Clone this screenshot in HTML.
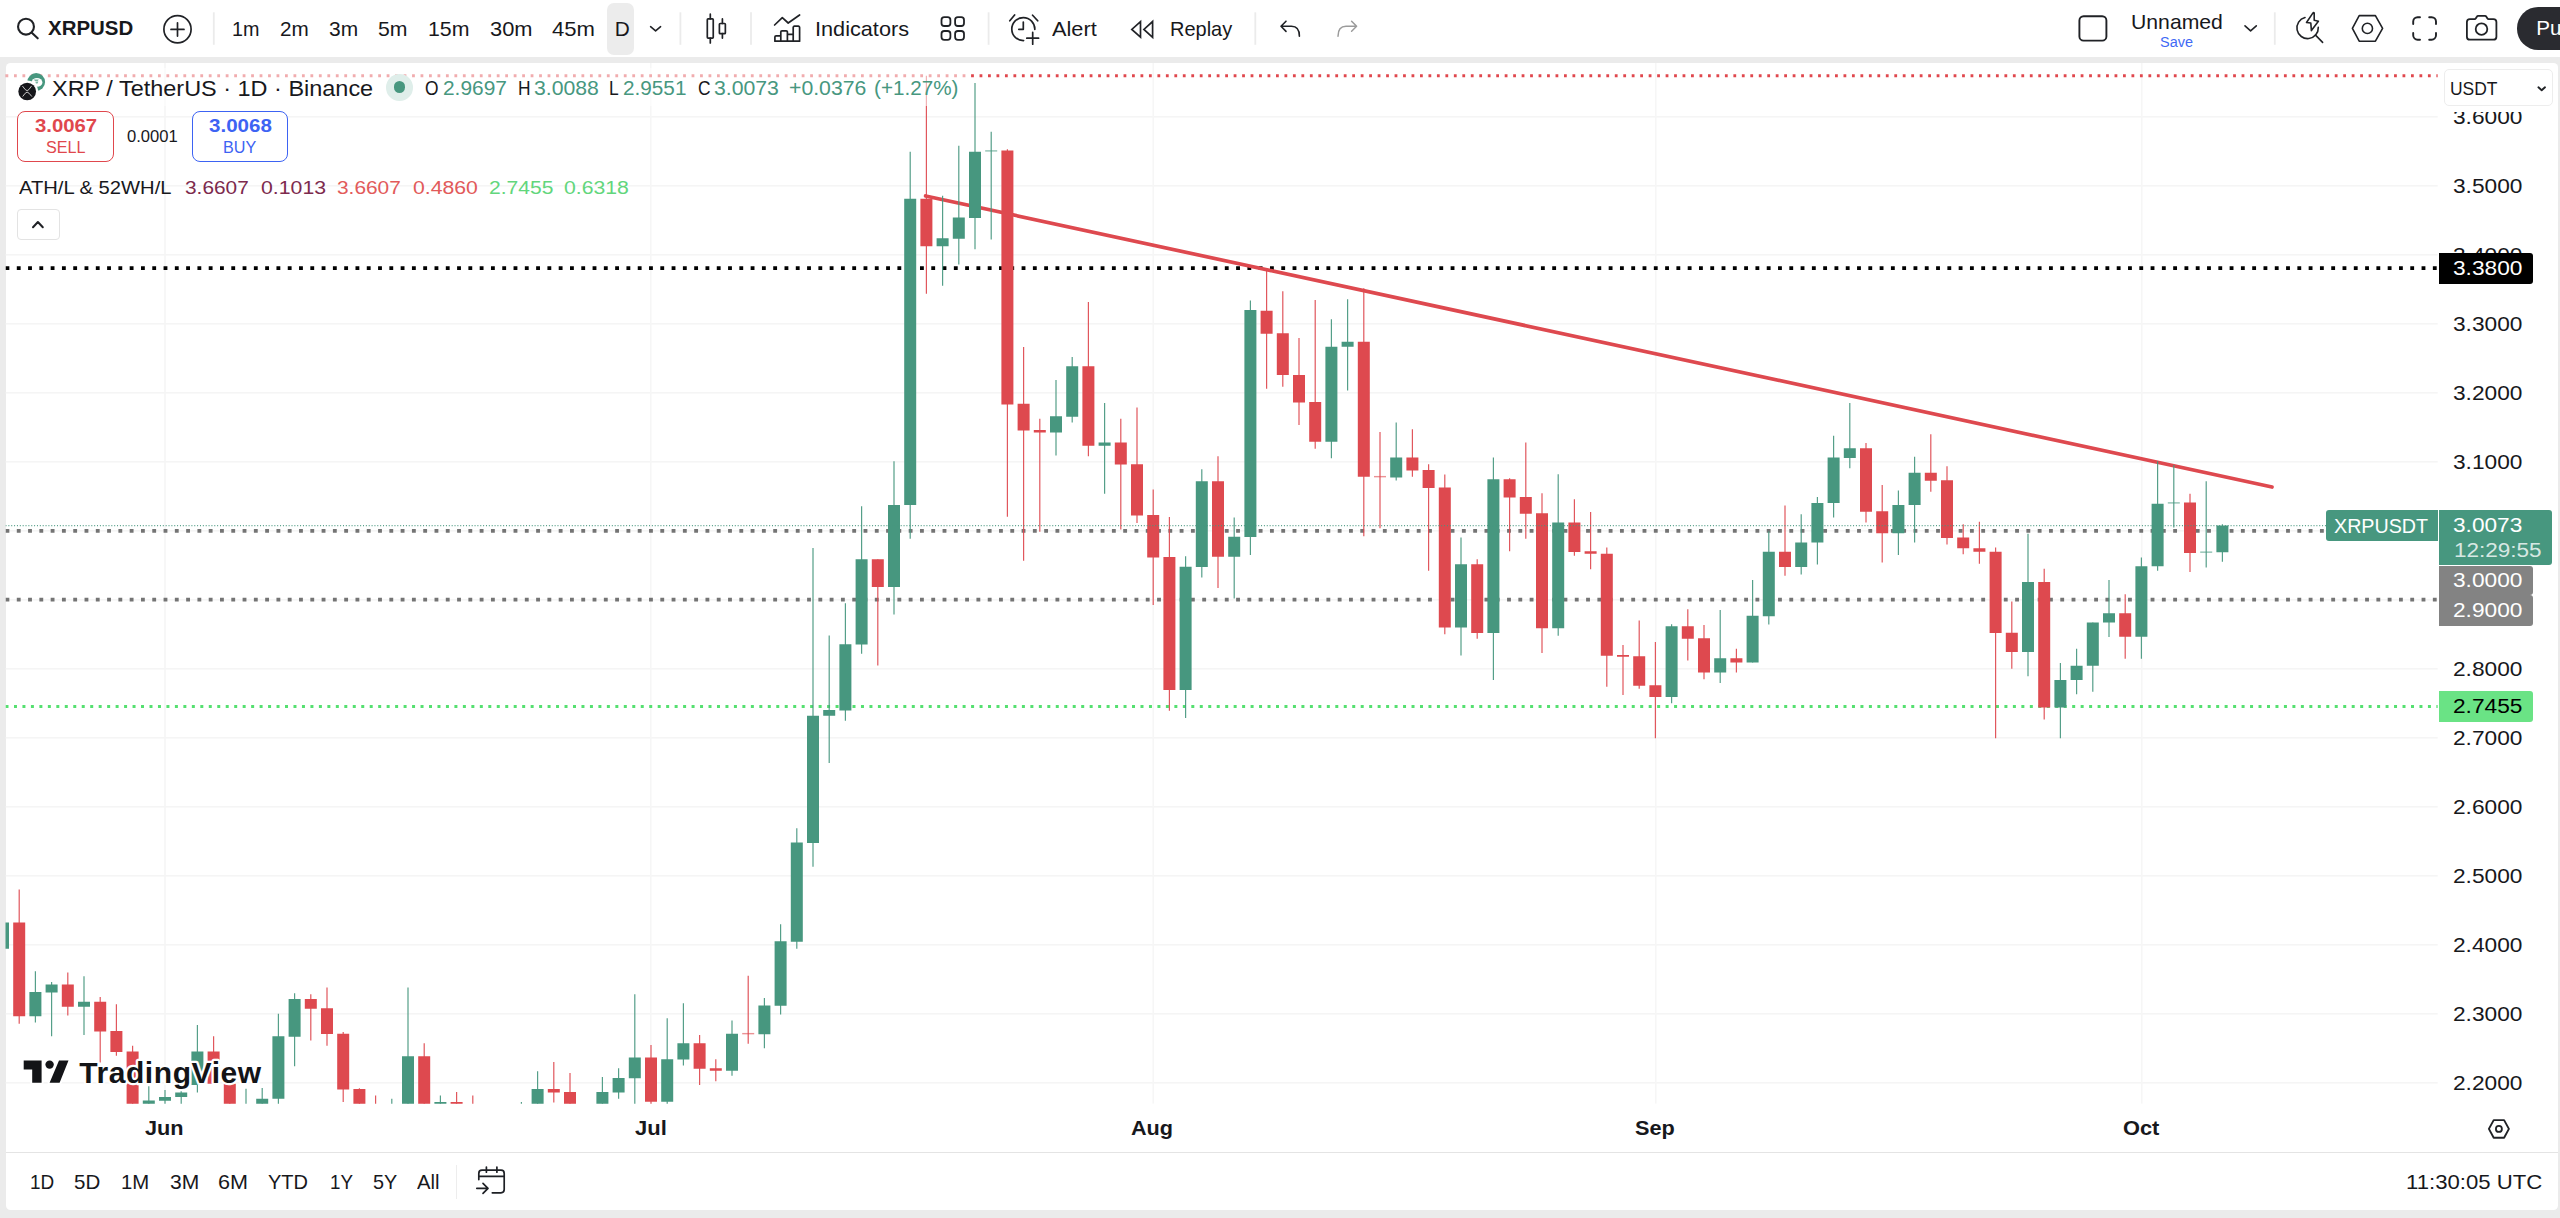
<!DOCTYPE html>
<html><head><meta charset="utf-8"><title>XRPUSD chart</title>
<style>
html,body{margin:0;padding:0;}
body{width:2560px;height:1218px;position:relative;overflow:hidden;background:#ebebeb;font-family:"Liberation Sans",sans-serif;}
.t{position:absolute;white-space:nowrap;transform-origin:0 0;}
.abs{position:absolute;}
.chart{position:absolute;left:0;top:0;}
svg.ic{position:absolute;overflow:visible;fill:none;stroke:#202226;stroke-width:1.6;stroke-linecap:round;stroke-linejoin:round}
</style></head><body>
<div class="abs" style="left:0;top:0;width:2560px;height:57.3px;background:#fff"></div>
<div class="abs" style="left:5.5px;top:63.2px;width:2552.9px;height:1146.8px;background:#fff;border-radius:4.5px"></div>
<div class="abs" style="left:607.1px;top:3px;width:27.1px;height:51.9px;background:#ececec;border-radius:7px"></div>
<svg class="chart" width="2560" height="1218" viewBox="0 0 2560 1218">
<defs><clipPath id="pane"><rect x="5.5" y="63" width="2432.3" height="1040.75"/></clipPath></defs>
<g clip-path="url(#pane)">
<rect x="5.5" y="116.00" width="2432.3" height="1.6" fill="#f5f5f5"/>
<rect x="5.5" y="185.00" width="2432.3" height="1.6" fill="#f5f5f5"/>
<rect x="5.5" y="254.00" width="2432.3" height="1.6" fill="#f5f5f5"/>
<rect x="5.5" y="323.00" width="2432.3" height="1.6" fill="#f5f5f5"/>
<rect x="5.5" y="392.00" width="2432.3" height="1.6" fill="#f5f5f5"/>
<rect x="5.5" y="461.00" width="2432.3" height="1.6" fill="#f5f5f5"/>
<rect x="5.5" y="530.00" width="2432.3" height="1.6" fill="#f5f5f5"/>
<rect x="5.5" y="599.00" width="2432.3" height="1.6" fill="#f5f5f5"/>
<rect x="5.5" y="668.00" width="2432.3" height="1.6" fill="#f5f5f5"/>
<rect x="5.5" y="737.00" width="2432.3" height="1.6" fill="#f5f5f5"/>
<rect x="5.5" y="806.00" width="2432.3" height="1.6" fill="#f5f5f5"/>
<rect x="5.5" y="875.00" width="2432.3" height="1.6" fill="#f5f5f5"/>
<rect x="5.5" y="944.00" width="2432.3" height="1.6" fill="#f5f5f5"/>
<rect x="5.5" y="1013.00" width="2432.3" height="1.6" fill="#f5f5f5"/>
<rect x="5.5" y="1082.00" width="2432.3" height="1.6" fill="#f5f5f5"/>
<rect x="164.20" y="63" width="1.6" height="1040.75" fill="#f6f6f6"/>
<rect x="649.95" y="63" width="1.6" height="1040.75" fill="#f6f6f6"/>
<rect x="1152.45" y="63" width="1.6" height="1040.75" fill="#f6f6f6"/>
<rect x="1654.95" y="63" width="1.6" height="1040.75" fill="#f6f6f6"/>
<rect x="2140.95" y="63" width="1.6" height="1040.75" fill="#f6f6f6"/>
<line x1="5.5" y1="75.75" x2="2437.8" y2="75.75" stroke="#e0474d" stroke-width="2.8" stroke-dasharray="2.8 5.670000000000001"/>
<line x1="5.5" y1="706.40" x2="2437.8" y2="706.40" stroke="#55e070" stroke-width="3" stroke-dasharray="3 5.470000000000001"/>
<line x1="5.5" y1="268.10" x2="2437.8" y2="268.10" stroke="#000000" stroke-width="3.85" stroke-dasharray="3.85 7.4399999999999995"/>
<line x1="5.5" y1="530.90" x2="2437.8" y2="530.90" stroke="#747474" stroke-width="3.85" stroke-dasharray="3.85 7.4399999999999995"/>
<line x1="5.5" y1="599.60" x2="2437.8" y2="599.60" stroke="#747474" stroke-width="3.85" stroke-dasharray="3.85 7.4399999999999995"/>
<line x1="925.6" y1="196" x2="2272" y2="487" stroke="#de494f" stroke-width="3.7" stroke-linecap="round"/>
<rect x="2.40" y="922.50" width="1.2" height="26.25" fill="#47977f" opacity="0.92"/>
<rect x="-3.00" y="922.50" width="12" height="26.25" fill="#47977f"/>
<rect x="18.60" y="889.50" width="1.2" height="134.25" fill="#de494f" opacity="0.92"/>
<rect x="13.20" y="922.50" width="12" height="93.75" fill="#de494f"/>
<rect x="34.80" y="971.25" width="1.2" height="51.25" fill="#47977f" opacity="0.92"/>
<rect x="29.40" y="992.00" width="12" height="24.25" fill="#47977f"/>
<rect x="51.00" y="982.00" width="1.2" height="54.25" fill="#47977f" opacity="0.92"/>
<rect x="45.60" y="984.50" width="12" height="8.00" fill="#47977f"/>
<rect x="67.20" y="972.50" width="1.2" height="43.00" fill="#de494f" opacity="0.92"/>
<rect x="61.80" y="984.50" width="12" height="22.25" fill="#de494f"/>
<rect x="83.40" y="976.25" width="1.2" height="58.75" fill="#47977f" opacity="0.92"/>
<rect x="78.00" y="1001.75" width="12" height="5.00" fill="#47977f"/>
<rect x="99.60" y="997.00" width="1.2" height="65.50" fill="#de494f" opacity="0.92"/>
<rect x="94.20" y="1001.75" width="12" height="29.75" fill="#de494f"/>
<rect x="115.80" y="1004.25" width="1.2" height="51.50" fill="#de494f" opacity="0.92"/>
<rect x="110.40" y="1031.00" width="12" height="21.00" fill="#de494f"/>
<rect x="132.00" y="1045.75" width="1.2" height="64.25" fill="#de494f" opacity="0.92"/>
<rect x="126.60" y="1051.50" width="12" height="58.50" fill="#de494f"/>
<rect x="148.20" y="1086.25" width="1.2" height="23.75" fill="#47977f" opacity="0.92"/>
<rect x="142.80" y="1100.50" width="12" height="9.50" fill="#47977f"/>
<rect x="164.40" y="1090.00" width="1.2" height="20.00" fill="#47977f" opacity="0.92"/>
<rect x="159.00" y="1097.00" width="12" height="3.75" fill="#47977f"/>
<rect x="180.60" y="1085.00" width="1.2" height="25.00" fill="#47977f" opacity="0.92"/>
<rect x="175.20" y="1092.50" width="12" height="4.50" fill="#47977f"/>
<rect x="196.80" y="1025.00" width="1.2" height="67.50" fill="#47977f" opacity="0.92"/>
<rect x="191.40" y="1051.50" width="12" height="33.50" fill="#47977f"/>
<rect x="213.00" y="1036.25" width="1.2" height="47.50" fill="#de494f" opacity="0.92"/>
<rect x="207.60" y="1051.50" width="12" height="32.25" fill="#de494f"/>
<rect x="229.20" y="1083.75" width="1.2" height="26.25" fill="#de494f" opacity="0.92"/>
<rect x="223.80" y="1083.75" width="12" height="26.25" fill="#de494f"/>
<rect x="245.40" y="1088.75" width="1.2" height="21.25" fill="#47977f" opacity="0.92"/>
<rect x="240.00" y="1109.70" width="12" height="1.4" fill="#47977f" opacity="0.6"/>
<rect x="261.60" y="1088.00" width="1.2" height="22.00" fill="#47977f" opacity="0.92"/>
<rect x="256.20" y="1098.75" width="12" height="11.25" fill="#47977f"/>
<rect x="277.80" y="1013.75" width="1.2" height="96.25" fill="#47977f" opacity="0.92"/>
<rect x="272.40" y="1036.25" width="12" height="62.50" fill="#47977f"/>
<rect x="294.00" y="993.25" width="1.2" height="73.00" fill="#47977f" opacity="0.92"/>
<rect x="288.60" y="999.00" width="12" height="37.75" fill="#47977f"/>
<rect x="310.20" y="994.25" width="1.2" height="46.25" fill="#de494f" opacity="0.92"/>
<rect x="304.80" y="999.00" width="12" height="9.75" fill="#de494f"/>
<rect x="326.40" y="987.50" width="1.2" height="58.25" fill="#de494f" opacity="0.92"/>
<rect x="321.00" y="1008.25" width="12" height="25.75" fill="#de494f"/>
<rect x="342.60" y="1032.00" width="1.2" height="70.00" fill="#de494f" opacity="0.92"/>
<rect x="337.20" y="1033.75" width="12" height="55.75" fill="#de494f"/>
<rect x="358.80" y="1088.25" width="1.2" height="21.75" fill="#de494f" opacity="0.92"/>
<rect x="353.40" y="1089.00" width="12" height="21.00" fill="#de494f"/>
<rect x="375.00" y="1095.50" width="1.2" height="14.50" fill="#de494f" opacity="0.92"/>
<rect x="369.60" y="1109.70" width="12" height="1.4" fill="#de494f" opacity="0.6"/>
<rect x="391.20" y="1098.75" width="1.2" height="11.25" fill="#47977f" opacity="0.92"/>
<rect x="385.80" y="1109.70" width="12" height="1.4" fill="#47977f" opacity="0.6"/>
<rect x="407.40" y="987.50" width="1.2" height="122.50" fill="#47977f" opacity="0.92"/>
<rect x="402.00" y="1056.25" width="12" height="53.75" fill="#47977f"/>
<rect x="423.60" y="1043.25" width="1.2" height="66.75" fill="#de494f" opacity="0.92"/>
<rect x="418.20" y="1056.25" width="12" height="53.75" fill="#de494f"/>
<rect x="439.80" y="1095.50" width="1.2" height="14.50" fill="#47977f" opacity="0.92"/>
<rect x="434.40" y="1102.00" width="12" height="8.00" fill="#47977f"/>
<rect x="456.00" y="1092.00" width="1.2" height="18.00" fill="#de494f" opacity="0.92"/>
<rect x="450.60" y="1102.00" width="12" height="8.00" fill="#de494f"/>
<rect x="472.20" y="1095.50" width="1.2" height="14.50" fill="#de494f" opacity="0.92"/>
<rect x="466.80" y="1109.70" width="12" height="1.4" fill="#de494f" opacity="0.6"/>
<rect x="520.80" y="1102.00" width="1.2" height="8.00" fill="#47977f" opacity="0.92"/>
<rect x="515.40" y="1109.70" width="12" height="1.4" fill="#47977f" opacity="0.6"/>
<rect x="537.00" y="1071.25" width="1.2" height="38.75" fill="#47977f" opacity="0.92"/>
<rect x="531.60" y="1089.00" width="12" height="21.00" fill="#47977f"/>
<rect x="553.20" y="1062.00" width="1.2" height="40.50" fill="#de494f" opacity="0.92"/>
<rect x="547.80" y="1089.00" width="12" height="3.50" fill="#de494f"/>
<rect x="569.40" y="1073.00" width="1.2" height="37.00" fill="#de494f" opacity="0.92"/>
<rect x="564.00" y="1092.00" width="12" height="18.00" fill="#de494f"/>
<rect x="601.80" y="1077.00" width="1.2" height="33.00" fill="#47977f" opacity="0.92"/>
<rect x="596.40" y="1092.00" width="12" height="18.00" fill="#47977f"/>
<rect x="618.00" y="1068.25" width="1.2" height="30.50" fill="#47977f" opacity="0.92"/>
<rect x="612.60" y="1078.00" width="12" height="14.50" fill="#47977f"/>
<rect x="634.20" y="994.25" width="1.2" height="115.75" fill="#47977f" opacity="0.92"/>
<rect x="628.80" y="1057.50" width="12" height="20.75" fill="#47977f"/>
<rect x="650.40" y="1045.00" width="1.2" height="65.00" fill="#de494f" opacity="0.92"/>
<rect x="645.00" y="1057.50" width="12" height="44.25" fill="#de494f"/>
<rect x="666.60" y="1018.25" width="1.2" height="91.75" fill="#47977f" opacity="0.92"/>
<rect x="661.20" y="1059.25" width="12" height="42.50" fill="#47977f"/>
<rect x="682.80" y="1003.25" width="1.2" height="62.25" fill="#47977f" opacity="0.92"/>
<rect x="677.40" y="1043.25" width="12" height="16.25" fill="#47977f"/>
<rect x="699.00" y="1035.00" width="1.2" height="50.00" fill="#de494f" opacity="0.92"/>
<rect x="693.60" y="1043.25" width="12" height="25.50" fill="#de494f"/>
<rect x="715.20" y="1059.25" width="1.2" height="22.00" fill="#de494f" opacity="0.92"/>
<rect x="709.80" y="1068.25" width="12" height="2.50" fill="#de494f"/>
<rect x="731.40" y="1020.50" width="1.2" height="55.25" fill="#47977f" opacity="0.92"/>
<rect x="726.00" y="1033.75" width="12" height="37.00" fill="#47977f"/>
<rect x="747.60" y="975.75" width="1.2" height="68.00" fill="#de494f" opacity="0.92"/>
<rect x="742.20" y="1032.95" width="12" height="1.4" fill="#de494f" opacity="0.6"/>
<rect x="763.80" y="998.00" width="1.2" height="50.25" fill="#47977f" opacity="0.92"/>
<rect x="758.40" y="1005.50" width="12" height="28.75" fill="#47977f"/>
<rect x="780.00" y="924.25" width="1.2" height="90.25" fill="#47977f" opacity="0.92"/>
<rect x="774.60" y="941.25" width="12" height="64.50" fill="#47977f"/>
<rect x="796.20" y="828.25" width="1.2" height="120.50" fill="#47977f" opacity="0.92"/>
<rect x="790.80" y="842.50" width="12" height="99.25" fill="#47977f"/>
<rect x="812.40" y="548.00" width="1.2" height="318.75" fill="#47977f" opacity="0.92"/>
<rect x="807.00" y="715.75" width="12" height="127.25" fill="#47977f"/>
<rect x="828.60" y="635.50" width="1.2" height="127.50" fill="#47977f" opacity="0.92"/>
<rect x="823.20" y="710.00" width="12" height="5.75" fill="#47977f"/>
<rect x="844.80" y="603.25" width="1.2" height="117.50" fill="#47977f" opacity="0.92"/>
<rect x="839.40" y="644.25" width="12" height="66.25" fill="#47977f"/>
<rect x="861.00" y="506.25" width="1.2" height="147.50" fill="#47977f" opacity="0.92"/>
<rect x="855.60" y="559.25" width="12" height="85.25" fill="#47977f"/>
<rect x="877.20" y="559.25" width="1.2" height="106.25" fill="#de494f" opacity="0.92"/>
<rect x="871.80" y="559.25" width="12" height="27.75" fill="#de494f"/>
<rect x="893.40" y="461.25" width="1.2" height="153.25" fill="#47977f" opacity="0.92"/>
<rect x="888.00" y="505.00" width="12" height="82.00" fill="#47977f"/>
<rect x="909.60" y="151.75" width="1.2" height="387.00" fill="#47977f" opacity="0.92"/>
<rect x="904.20" y="198.75" width="12" height="306.25" fill="#47977f"/>
<rect x="925.80" y="75.75" width="1.2" height="218.00" fill="#de494f" opacity="0.92"/>
<rect x="920.40" y="198.75" width="12" height="47.50" fill="#de494f"/>
<rect x="942.00" y="195.75" width="1.2" height="90.00" fill="#47977f" opacity="0.92"/>
<rect x="936.60" y="238.25" width="12" height="8.00" fill="#47977f"/>
<rect x="958.20" y="145.75" width="1.2" height="118.75" fill="#47977f" opacity="0.92"/>
<rect x="952.80" y="217.50" width="12" height="21.25" fill="#47977f"/>
<rect x="974.40" y="83.00" width="1.2" height="166.25" fill="#47977f" opacity="0.92"/>
<rect x="969.00" y="151.75" width="12" height="66.25" fill="#47977f"/>
<rect x="990.60" y="131.75" width="1.2" height="107.75" fill="#47977f" opacity="0.92"/>
<rect x="985.20" y="150.20" width="12" height="1.4" fill="#47977f" opacity="0.6"/>
<rect x="1006.80" y="149.25" width="1.2" height="367.50" fill="#de494f" opacity="0.92"/>
<rect x="1001.40" y="150.50" width="12" height="254.00" fill="#de494f"/>
<rect x="1023.00" y="347.00" width="1.2" height="213.75" fill="#de494f" opacity="0.92"/>
<rect x="1017.60" y="403.75" width="12" height="26.75" fill="#de494f"/>
<rect x="1039.20" y="418.75" width="1.2" height="113.00" fill="#de494f" opacity="0.92"/>
<rect x="1033.80" y="430.00" width="12" height="2.50" fill="#de494f"/>
<rect x="1055.40" y="380.00" width="1.2" height="75.50" fill="#47977f" opacity="0.92"/>
<rect x="1050.00" y="416.25" width="12" height="16.25" fill="#47977f"/>
<rect x="1071.60" y="357.00" width="1.2" height="65.50" fill="#47977f" opacity="0.92"/>
<rect x="1066.20" y="366.25" width="12" height="50.50" fill="#47977f"/>
<rect x="1087.80" y="302.00" width="1.2" height="154.25" fill="#de494f" opacity="0.92"/>
<rect x="1082.40" y="366.25" width="12" height="79.50" fill="#de494f"/>
<rect x="1104.00" y="403.00" width="1.2" height="90.75" fill="#47977f" opacity="0.92"/>
<rect x="1098.60" y="442.50" width="12" height="3.25" fill="#47977f"/>
<rect x="1120.20" y="418.75" width="1.2" height="110.75" fill="#de494f" opacity="0.92"/>
<rect x="1114.80" y="442.50" width="12" height="22.00" fill="#de494f"/>
<rect x="1136.40" y="407.50" width="1.2" height="115.50" fill="#de494f" opacity="0.92"/>
<rect x="1131.00" y="464.25" width="12" height="51.25" fill="#de494f"/>
<rect x="1152.60" y="489.50" width="1.2" height="115.50" fill="#de494f" opacity="0.92"/>
<rect x="1147.20" y="515.00" width="12" height="42.50" fill="#de494f"/>
<rect x="1168.80" y="517.00" width="1.2" height="193.75" fill="#de494f" opacity="0.92"/>
<rect x="1163.40" y="557.00" width="12" height="133.00" fill="#de494f"/>
<rect x="1185.00" y="556.25" width="1.2" height="161.75" fill="#47977f" opacity="0.92"/>
<rect x="1179.60" y="566.75" width="12" height="123.25" fill="#47977f"/>
<rect x="1201.20" y="469.25" width="1.2" height="108.25" fill="#47977f" opacity="0.92"/>
<rect x="1195.80" y="481.25" width="12" height="85.75" fill="#47977f"/>
<rect x="1217.40" y="456.25" width="1.2" height="131.75" fill="#de494f" opacity="0.92"/>
<rect x="1212.00" y="481.25" width="12" height="75.50" fill="#de494f"/>
<rect x="1233.60" y="517.50" width="1.2" height="81.00" fill="#47977f" opacity="0.92"/>
<rect x="1228.20" y="536.75" width="12" height="20.00" fill="#47977f"/>
<rect x="1249.80" y="300.50" width="1.2" height="254.50" fill="#47977f" opacity="0.92"/>
<rect x="1244.40" y="310.00" width="12" height="227.00" fill="#47977f"/>
<rect x="1266.00" y="268.00" width="1.2" height="120.75" fill="#de494f" opacity="0.92"/>
<rect x="1260.60" y="310.75" width="12" height="23.00" fill="#de494f"/>
<rect x="1282.20" y="291.25" width="1.2" height="95.50" fill="#de494f" opacity="0.92"/>
<rect x="1276.80" y="333.25" width="12" height="41.75" fill="#de494f"/>
<rect x="1298.40" y="338.00" width="1.2" height="87.00" fill="#de494f" opacity="0.92"/>
<rect x="1293.00" y="375.00" width="12" height="27.50" fill="#de494f"/>
<rect x="1314.60" y="300.00" width="1.2" height="148.75" fill="#de494f" opacity="0.92"/>
<rect x="1309.20" y="402.00" width="12" height="39.75" fill="#de494f"/>
<rect x="1330.80" y="319.25" width="1.2" height="139.00" fill="#47977f" opacity="0.92"/>
<rect x="1325.40" y="346.75" width="12" height="95.00" fill="#47977f"/>
<rect x="1347.00" y="299.25" width="1.2" height="91.25" fill="#47977f" opacity="0.92"/>
<rect x="1341.60" y="341.75" width="12" height="5.00" fill="#47977f"/>
<rect x="1363.20" y="288.25" width="1.2" height="248.00" fill="#de494f" opacity="0.92"/>
<rect x="1357.80" y="341.75" width="12" height="135.00" fill="#de494f"/>
<rect x="1379.40" y="432.00" width="1.2" height="96.25" fill="#de494f" opacity="0.92"/>
<rect x="1374.00" y="475.95" width="12" height="1.4" fill="#de494f" opacity="0.6"/>
<rect x="1395.60" y="422.50" width="1.2" height="58.00" fill="#47977f" opacity="0.92"/>
<rect x="1390.20" y="457.50" width="12" height="20.00" fill="#47977f"/>
<rect x="1411.80" y="429.25" width="1.2" height="47.50" fill="#de494f" opacity="0.92"/>
<rect x="1406.40" y="457.50" width="12" height="13.00" fill="#de494f"/>
<rect x="1428.00" y="464.25" width="1.2" height="106.50" fill="#de494f" opacity="0.92"/>
<rect x="1422.60" y="470.00" width="12" height="18.00" fill="#de494f"/>
<rect x="1444.20" y="474.50" width="1.2" height="159.75" fill="#de494f" opacity="0.92"/>
<rect x="1438.80" y="487.50" width="12" height="140.00" fill="#de494f"/>
<rect x="1460.40" y="537.50" width="1.2" height="118.00" fill="#47977f" opacity="0.92"/>
<rect x="1455.00" y="564.25" width="12" height="63.25" fill="#47977f"/>
<rect x="1476.60" y="559.25" width="1.2" height="79.50" fill="#de494f" opacity="0.92"/>
<rect x="1471.20" y="564.25" width="12" height="68.75" fill="#de494f"/>
<rect x="1492.80" y="457.50" width="1.2" height="222.50" fill="#47977f" opacity="0.92"/>
<rect x="1487.40" y="479.25" width="12" height="153.75" fill="#47977f"/>
<rect x="1509.00" y="478.25" width="1.2" height="73.00" fill="#de494f" opacity="0.92"/>
<rect x="1503.60" y="479.25" width="12" height="18.25" fill="#de494f"/>
<rect x="1525.20" y="442.50" width="1.2" height="96.25" fill="#de494f" opacity="0.92"/>
<rect x="1519.80" y="497.00" width="12" height="16.75" fill="#de494f"/>
<rect x="1541.40" y="493.25" width="1.2" height="159.75" fill="#de494f" opacity="0.92"/>
<rect x="1536.00" y="513.25" width="12" height="115.00" fill="#de494f"/>
<rect x="1557.60" y="474.25" width="1.2" height="161.50" fill="#47977f" opacity="0.92"/>
<rect x="1552.20" y="522.50" width="12" height="105.75" fill="#47977f"/>
<rect x="1573.80" y="499.25" width="1.2" height="56.50" fill="#de494f" opacity="0.92"/>
<rect x="1568.40" y="522.50" width="12" height="29.50" fill="#de494f"/>
<rect x="1590.00" y="512.00" width="1.2" height="57.25" fill="#de494f" opacity="0.92"/>
<rect x="1584.60" y="551.25" width="12" height="2.50" fill="#de494f"/>
<rect x="1606.20" y="547.50" width="1.2" height="139.25" fill="#de494f" opacity="0.92"/>
<rect x="1600.80" y="553.75" width="12" height="102.00" fill="#de494f"/>
<rect x="1622.40" y="645.00" width="1.2" height="50.00" fill="#de494f" opacity="0.92"/>
<rect x="1617.00" y="655.00" width="12" height="1.75" fill="#de494f"/>
<rect x="1638.60" y="620.50" width="1.2" height="68.25" fill="#de494f" opacity="0.92"/>
<rect x="1633.20" y="656.25" width="12" height="29.50" fill="#de494f"/>
<rect x="1654.80" y="642.00" width="1.2" height="96.25" fill="#de494f" opacity="0.92"/>
<rect x="1649.40" y="685.25" width="12" height="11.75" fill="#de494f"/>
<rect x="1671.00" y="624.25" width="1.2" height="79.00" fill="#47977f" opacity="0.92"/>
<rect x="1665.60" y="626.25" width="12" height="70.75" fill="#47977f"/>
<rect x="1687.20" y="609.25" width="1.2" height="51.25" fill="#de494f" opacity="0.92"/>
<rect x="1681.80" y="626.25" width="12" height="12.50" fill="#de494f"/>
<rect x="1703.40" y="625.00" width="1.2" height="54.25" fill="#de494f" opacity="0.92"/>
<rect x="1698.00" y="638.25" width="12" height="34.25" fill="#de494f"/>
<rect x="1719.60" y="610.00" width="1.2" height="73.00" fill="#47977f" opacity="0.92"/>
<rect x="1714.20" y="658.25" width="12" height="14.25" fill="#47977f"/>
<rect x="1735.80" y="648.75" width="1.2" height="23.75" fill="#de494f" opacity="0.92"/>
<rect x="1730.40" y="658.25" width="12" height="4.25" fill="#de494f"/>
<rect x="1752.00" y="580.00" width="1.2" height="82.50" fill="#47977f" opacity="0.92"/>
<rect x="1746.60" y="615.75" width="12" height="46.75" fill="#47977f"/>
<rect x="1768.20" y="531.25" width="1.2" height="93.25" fill="#47977f" opacity="0.92"/>
<rect x="1762.80" y="551.75" width="12" height="64.50" fill="#47977f"/>
<rect x="1784.40" y="505.50" width="1.2" height="70.25" fill="#de494f" opacity="0.92"/>
<rect x="1779.00" y="551.75" width="12" height="15.25" fill="#de494f"/>
<rect x="1800.60" y="514.25" width="1.2" height="60.25" fill="#47977f" opacity="0.92"/>
<rect x="1795.20" y="542.50" width="12" height="24.50" fill="#47977f"/>
<rect x="1816.80" y="497.00" width="1.2" height="67.50" fill="#47977f" opacity="0.92"/>
<rect x="1811.40" y="503.00" width="12" height="39.50" fill="#47977f"/>
<rect x="1833.00" y="435.75" width="1.2" height="81.75" fill="#47977f" opacity="0.92"/>
<rect x="1827.60" y="457.50" width="12" height="45.50" fill="#47977f"/>
<rect x="1849.20" y="403.00" width="1.2" height="65.25" fill="#47977f" opacity="0.92"/>
<rect x="1843.80" y="448.25" width="12" height="9.75" fill="#47977f"/>
<rect x="1865.40" y="443.00" width="1.2" height="79.50" fill="#de494f" opacity="0.92"/>
<rect x="1860.00" y="448.25" width="12" height="63.50" fill="#de494f"/>
<rect x="1881.60" y="485.00" width="1.2" height="77.50" fill="#de494f" opacity="0.92"/>
<rect x="1876.20" y="511.25" width="12" height="22.00" fill="#de494f"/>
<rect x="1897.80" y="490.50" width="1.2" height="64.50" fill="#47977f" opacity="0.92"/>
<rect x="1892.40" y="505.00" width="12" height="28.25" fill="#47977f"/>
<rect x="1914.00" y="456.75" width="1.2" height="85.75" fill="#47977f" opacity="0.92"/>
<rect x="1908.60" y="472.75" width="12" height="32.25" fill="#47977f"/>
<rect x="1930.20" y="434.25" width="1.2" height="57.50" fill="#de494f" opacity="0.92"/>
<rect x="1924.80" y="472.75" width="12" height="8.00" fill="#de494f"/>
<rect x="1946.40" y="466.25" width="1.2" height="78.25" fill="#de494f" opacity="0.92"/>
<rect x="1941.00" y="480.25" width="12" height="57.75" fill="#de494f"/>
<rect x="1962.60" y="524.25" width="1.2" height="30.00" fill="#de494f" opacity="0.92"/>
<rect x="1957.20" y="537.50" width="12" height="10.75" fill="#de494f"/>
<rect x="1978.80" y="521.75" width="1.2" height="42.00" fill="#de494f" opacity="0.92"/>
<rect x="1973.40" y="548.25" width="12" height="3.50" fill="#de494f"/>
<rect x="1995.00" y="547.50" width="1.2" height="190.75" fill="#de494f" opacity="0.92"/>
<rect x="1989.60" y="551.75" width="12" height="81.25" fill="#de494f"/>
<rect x="2011.20" y="601.50" width="1.2" height="67.25" fill="#de494f" opacity="0.92"/>
<rect x="2005.80" y="632.75" width="12" height="19.25" fill="#de494f"/>
<rect x="2027.40" y="533.75" width="1.2" height="142.50" fill="#47977f" opacity="0.92"/>
<rect x="2022.00" y="582.00" width="12" height="70.00" fill="#47977f"/>
<rect x="2043.60" y="568.75" width="1.2" height="150.75" fill="#de494f" opacity="0.92"/>
<rect x="2038.20" y="582.00" width="12" height="125.50" fill="#de494f"/>
<rect x="2059.80" y="663.00" width="1.2" height="75.25" fill="#47977f" opacity="0.92"/>
<rect x="2054.40" y="680.00" width="12" height="27.50" fill="#47977f"/>
<rect x="2076.00" y="648.75" width="1.2" height="45.50" fill="#47977f" opacity="0.92"/>
<rect x="2070.60" y="665.75" width="12" height="14.25" fill="#47977f"/>
<rect x="2092.20" y="622.50" width="1.2" height="69.25" fill="#47977f" opacity="0.92"/>
<rect x="2086.80" y="622.50" width="12" height="43.25" fill="#47977f"/>
<rect x="2108.40" y="580.00" width="1.2" height="57.00" fill="#47977f" opacity="0.92"/>
<rect x="2103.00" y="613.25" width="12" height="9.25" fill="#47977f"/>
<rect x="2124.60" y="594.25" width="1.2" height="64.50" fill="#de494f" opacity="0.92"/>
<rect x="2119.20" y="613.25" width="12" height="23.50" fill="#de494f"/>
<rect x="2140.80" y="557.50" width="1.2" height="101.25" fill="#47977f" opacity="0.92"/>
<rect x="2135.40" y="566.25" width="12" height="70.50" fill="#47977f"/>
<rect x="2157.00" y="461.25" width="1.2" height="109.50" fill="#47977f" opacity="0.92"/>
<rect x="2151.60" y="503.75" width="12" height="62.50" fill="#47977f"/>
<rect x="2173.20" y="465.00" width="1.2" height="62.50" fill="#47977f" opacity="0.92"/>
<rect x="2167.80" y="502.20" width="12" height="1.4" fill="#47977f" opacity="0.6"/>
<rect x="2189.40" y="493.75" width="1.2" height="78.25" fill="#de494f" opacity="0.92"/>
<rect x="2184.00" y="502.50" width="12" height="50.50" fill="#de494f"/>
<rect x="2205.60" y="481.25" width="1.2" height="86.25" fill="#47977f" opacity="0.92"/>
<rect x="2200.20" y="551.45" width="12" height="1.4" fill="#47977f" opacity="0.6"/>
<rect x="2221.80" y="524.25" width="1.2" height="37.50" fill="#47977f" opacity="0.92"/>
<rect x="2216.40" y="525.50" width="12" height="26.75" fill="#47977f"/>
<line x1="5.5" y1="525.6" x2="2437.8" y2="525.6" stroke="#47977f" stroke-width="1.1" stroke-dasharray="1 1.86" opacity="0.9"/>
</g>
</svg>
<div class="abs" style="left:5.5px;top:1151.6px;width:2552.9px;height:1.4px;background:#e4e4e4"></div>
<div class="abs" style="left:17.2px;top:209.4px;width:40.9px;height:28.4px;border:1px solid #e3e3e3;border-radius:4px;background:#fff"></div>
<div class="abs" style="left:192px;top:111.2px;width:93.7px;height:49.3px;border:1.5px solid #3d63f3;border-radius:8px;background:rgba(255,255,255,.9)"></div>
<div class="abs" style="left:17.2px;top:111.2px;width:94.6px;height:49.3px;border:1.5px solid #e0474d;border-radius:8px;background:rgba(255,255,255,.9)"></div>
<div class="abs" style="left:5.5px;top:68px;width:962px;height:38px;background:rgba(255,255,255,.55)"></div>
<div class="t" style="left:48.40px;top:18.45px;font-size:20.5px;line-height:20.5px;color:#17181c;transform:scaleX(0.9967);font-weight:700;">XRPUSD</div>
<div class="t" style="left:232.00px;top:19.09px;font-size:20.8px;line-height:20.8px;color:#17181c;transform:scaleX(0.9512);">1m</div>
<div class="t" style="left:279.90px;top:19.09px;font-size:20.8px;line-height:20.8px;color:#17181c;transform:scaleX(0.9961);">2m</div>
<div class="t" style="left:329.10px;top:19.09px;font-size:20.8px;line-height:20.8px;color:#17181c;transform:scaleX(1.0065);">3m</div>
<div class="t" style="left:378.30px;top:19.09px;font-size:20.8px;line-height:20.8px;color:#17181c;transform:scaleX(1.0203);">5m</div>
<div class="t" style="left:428.30px;top:19.09px;font-size:20.8px;line-height:20.8px;color:#17181c;transform:scaleX(1.0258);">15m</div>
<div class="t" style="left:489.80px;top:19.09px;font-size:20.8px;line-height:20.8px;color:#17181c;transform:scaleX(1.0505);">30m</div>
<div class="t" style="left:551.80px;top:19.09px;font-size:20.8px;line-height:20.8px;color:#17181c;transform:scaleX(1.0629);">45m</div>
<div class="t" style="left:815.00px;top:19.09px;font-size:20.8px;line-height:20.8px;color:#17181c;transform:scaleX(1.0425);">Indicators</div>
<div class="t" style="left:1052.40px;top:19.09px;font-size:20.8px;line-height:20.8px;color:#17181c;transform:scaleX(1.0458);">Alert</div>
<div class="t" style="left:1170.20px;top:19.09px;font-size:20.8px;line-height:20.8px;color:#17181c;transform:scaleX(0.9600);">Replay</div>
<div class="t" style="left:2130.60px;top:11.76px;font-size:20.6px;line-height:20.6px;color:#17181c;transform:scaleX(1.0291);">Unnamed</div>
<div class="t" style="left:2159.90px;top:33.83px;font-size:15.2px;line-height:15.2px;color:#3f6af5;transform:scaleX(0.9522);">Save</div>
<div class="t" style="left:51.80px;top:77.67px;font-size:22.6px;line-height:22.6px;color:#17181c;transform:scaleX(1.0382);">XRP / TetherUS · 1D · Binance</div>
<div class="t" style="left:425.30px;top:78.96px;font-size:19.3px;line-height:19.3px;color:#17181c;letter-spacing:-0.054px;transform:scaleX(0.9000);">O</div>
<div class="t" style="left:442.50px;top:78.96px;font-size:19.3px;line-height:19.3px;color:#47977f;transform:scaleX(1.0837);">2.9697</div>
<div class="t" style="left:517.70px;top:78.96px;font-size:19.3px;line-height:19.3px;color:#17181c;letter-spacing:-0.229px;transform:scaleX(0.9000);">H</div>
<div class="t" style="left:533.50px;top:78.96px;font-size:19.3px;line-height:19.3px;color:#47977f;transform:scaleX(1.1006);">3.0088</div>
<div class="t" style="left:609.30px;top:78.96px;font-size:19.3px;line-height:19.3px;color:#17181c;transform:scaleX(0.9056);">L</div>
<div class="t" style="left:622.50px;top:78.96px;font-size:19.3px;line-height:19.3px;color:#47977f;transform:scaleX(1.0752);">2.9551</div>
<div class="t" style="left:697.50px;top:78.96px;font-size:19.3px;line-height:19.3px;color:#17181c;letter-spacing:-0.007px;transform:scaleX(0.9000);">C</div>
<div class="t" style="left:713.50px;top:78.96px;font-size:19.3px;line-height:19.3px;color:#47977f;transform:scaleX(1.1006);">3.0073</div>
<div class="t" style="left:789.00px;top:78.96px;font-size:19.3px;line-height:19.3px;color:#47977f;transform:scaleX(1.1017);">+0.0376</div>
<div class="t" style="left:874.00px;top:78.96px;font-size:19.3px;line-height:19.3px;color:#47977f;transform:scaleX(1.0718);">(+1.27%)</div>
<div class="t" style="left:34.80px;top:117.49px;font-size:18.2px;line-height:18.2px;color:#e0474d;transform:scaleX(1.1169);font-weight:700;">3.0067</div>
<div class="t" style="left:45.90px;top:140.03px;font-size:15.8px;line-height:15.8px;color:#e0474d;transform:scaleX(1.0225);">SELL</div>
<div class="t" style="left:127.30px;top:128.63px;font-size:15.8px;line-height:15.8px;color:#17181c;transform:scaleX(1.0507);">0.0001</div>
<div class="t" style="left:209.00px;top:117.49px;font-size:18.2px;line-height:18.2px;color:#3d63f3;transform:scaleX(1.1294);font-weight:700;">3.0068</div>
<div class="t" style="left:223.20px;top:140.03px;font-size:15.8px;line-height:15.8px;color:#3d63f3;transform:scaleX(1.0225);">BUY</div>
<div class="t" style="left:18.90px;top:178.15px;font-size:19.2px;line-height:19.2px;color:#17181c;transform:scaleX(1.0513);">ATH/L &amp; 52WH/L</div>
<div class="t" style="left:185.20px;top:178.15px;font-size:19.2px;line-height:19.2px;color:#7d2a4d;transform:scaleX(1.0859);">3.6607</div>
<div class="t" style="left:260.70px;top:178.15px;font-size:19.2px;line-height:19.2px;color:#7d2a4d;transform:scaleX(1.1080);">0.1013</div>
<div class="t" style="left:336.90px;top:178.15px;font-size:19.2px;line-height:19.2px;color:#e25a5a;transform:scaleX(1.0876);">3.6607</div>
<div class="t" style="left:412.50px;top:178.15px;font-size:19.2px;line-height:19.2px;color:#e25a5a;transform:scaleX(1.1063);">0.4860</div>
<div class="t" style="left:488.50px;top:178.15px;font-size:19.2px;line-height:19.2px;color:#62d67c;transform:scaleX(1.0978);">2.7455</div>
<div class="t" style="left:564.00px;top:178.15px;font-size:19.2px;line-height:19.2px;color:#62d67c;transform:scaleX(1.1063);">0.6318</div>
<div class="t" style="left:2452.70px;top:106.68px;font-size:20.7px;line-height:20.7px;color:#17181c;transform:scaleX(1.0972);">3.6000</div>
<div class="t" style="left:2452.70px;top:175.68px;font-size:20.7px;line-height:20.7px;color:#17181c;transform:scaleX(1.0972);">3.5000</div>
<div class="t" style="left:2452.70px;top:244.68px;font-size:20.7px;line-height:20.7px;color:#17181c;transform:scaleX(1.0972);">3.4000</div>
<div class="t" style="left:2452.70px;top:313.68px;font-size:20.7px;line-height:20.7px;color:#17181c;transform:scaleX(1.0972);">3.3000</div>
<div class="t" style="left:2452.70px;top:382.68px;font-size:20.7px;line-height:20.7px;color:#17181c;transform:scaleX(1.0972);">3.2000</div>
<div class="t" style="left:2452.70px;top:451.68px;font-size:20.7px;line-height:20.7px;color:#17181c;transform:scaleX(1.0972);">3.1000</div>
<div class="t" style="left:2452.70px;top:658.68px;font-size:20.7px;line-height:20.7px;color:#17181c;transform:scaleX(1.0972);">2.8000</div>
<div class="t" style="left:2452.70px;top:727.68px;font-size:20.7px;line-height:20.7px;color:#17181c;transform:scaleX(1.0972);">2.7000</div>
<div class="t" style="left:2452.70px;top:796.68px;font-size:20.7px;line-height:20.7px;color:#17181c;transform:scaleX(1.0972);">2.6000</div>
<div class="t" style="left:2452.70px;top:865.68px;font-size:20.7px;line-height:20.7px;color:#17181c;transform:scaleX(1.0972);">2.5000</div>
<div class="t" style="left:2452.70px;top:934.68px;font-size:20.7px;line-height:20.7px;color:#17181c;transform:scaleX(1.0972);">2.4000</div>
<div class="t" style="left:2452.70px;top:1003.68px;font-size:20.7px;line-height:20.7px;color:#17181c;transform:scaleX(1.0972);">2.3000</div>
<div class="t" style="left:2452.70px;top:1072.68px;font-size:20.7px;line-height:20.7px;color:#17181c;transform:scaleX(1.0972);">2.2000</div>
<div class="t" style="left:145.19px;top:1117.76px;font-size:20.6px;line-height:20.6px;color:#17181c;transform:scaleX(1.0534);font-weight:700;">Jun</div>
<div class="t" style="left:634.62px;top:1117.76px;font-size:20.6px;line-height:20.6px;color:#17181c;transform:scaleX(1.0671);font-weight:700;">Jul</div>
<div class="t" style="left:1131.48px;top:1117.76px;font-size:20.6px;line-height:20.6px;color:#17181c;transform:scaleX(1.0494);font-weight:700;">Aug</div>
<div class="t" style="left:1635.11px;top:1117.76px;font-size:20.6px;line-height:20.6px;color:#17181c;transform:scaleX(1.0524);font-weight:700;">Sep</div>
<div class="t" style="left:2123.33px;top:1117.76px;font-size:20.6px;line-height:20.6px;color:#17181c;transform:scaleX(1.0595);font-weight:700;">Oct</div>
<div class="t" style="left:29.50px;top:1172.19px;font-size:20.8px;line-height:20.8px;color:#17181c;transform:scaleX(0.9108);">1D</div>
<div class="t" style="left:73.75px;top:1172.19px;font-size:20.8px;line-height:20.8px;color:#17181c;transform:scaleX(0.9860);">5D</div>
<div class="t" style="left:121.25px;top:1172.19px;font-size:20.8px;line-height:20.8px;color:#17181c;transform:scaleX(0.9771);">1M</div>
<div class="t" style="left:169.50px;top:1172.19px;font-size:20.8px;line-height:20.8px;color:#17181c;transform:scaleX(1.0117);">3M</div>
<div class="t" style="left:218.25px;top:1172.19px;font-size:20.8px;line-height:20.8px;color:#17181c;transform:scaleX(1.0376);">6M</div>
<div class="t" style="left:268.00px;top:1172.19px;font-size:20.8px;line-height:20.8px;color:#17181c;transform:scaleX(0.9615);">YTD</div>
<div class="t" style="left:329.50px;top:1172.19px;font-size:20.8px;line-height:20.8px;color:#17181c;transform:scaleX(0.9027);">1Y</div>
<div class="t" style="left:372.50px;top:1172.19px;font-size:20.8px;line-height:20.8px;color:#17181c;transform:scaleX(0.9517);">5Y</div>
<div class="t" style="left:417.00px;top:1172.19px;font-size:20.8px;line-height:20.8px;color:#17181c;transform:scaleX(0.9745);">All</div>
<div class="t" style="left:2406.25px;top:1171.99px;font-size:20.8px;line-height:20.8px;color:#17181c;transform:scaleX(1.0651);">11:30:05 UTC</div>
<div class="abs" style="left:455.5px;top:1165.3px;width:1.8px;height:33.6px;background:#ededed"></div>
<div class="abs" style="left:2439px;top:64px;width:119.4px;height:48.4px;background:#fff;border-top-right-radius:4.5px"></div>
<div class="abs" style="left:2444px;top:68.8px;width:106.6px;height:35.7px;border:1px solid #ededed;border-radius:5px;background:#fff"></div>
<div class="t" style="left:2449.50px;top:80.36px;font-size:18px;line-height:18px;color:#17181c;transform:scaleX(0.9702);">USDT</div>
<div class="abs" style="left:2325.9px;top:510px;width:112px;height:31px;background:#47977f;border-radius:3px 0 0 3px"></div>
<div class="abs" style="left:2439px;top:510px;width:113.3px;height:55.4px;background:#47977f;border-radius:0 3px 3px 0"></div>
<div class="abs" style="left:2439px;top:565.6px;width:93.8px;height:29.3px;background:#838383;border-radius:0 3px 3px 0"></div>
<div class="abs" style="left:2439px;top:594.9px;width:93.8px;height:30.8px;background:#838383;border-radius:0 3px 3px 0"></div>
<div class="abs" style="left:2438.7px;top:691px;width:94.3px;height:31px;background:#6ae385;border-radius:0 3px 3px 0"></div>
<div class="abs" style="left:2438.5px;top:253.3px;width:94.1px;height:30.8px;background:#000;border-radius:0 3px 3px 0"></div>
<div class="t" style="left:2334.40px;top:516.20px;font-size:20.2px;line-height:20.2px;color:#fff;transform:scaleX(0.9756);">XRPUSDT</div>
<div class="t" style="left:2452.70px;top:514.68px;font-size:20.7px;line-height:20.7px;color:#fff;transform:scaleX(1.0941);">3.0073</div>
<div class="t" style="left:2453.70px;top:539.68px;font-size:20.7px;line-height:20.7px;color:rgba(255,255,255,.8);transform:scaleX(1.0877);">12:29:55</div>
<div class="t" style="left:2452.70px;top:569.68px;font-size:20.7px;line-height:20.7px;color:#fff;transform:scaleX(1.0972);">3.0000</div>
<div class="t" style="left:2452.70px;top:599.98px;font-size:20.7px;line-height:20.7px;color:#fff;transform:scaleX(1.0972);">2.9000</div>
<div class="t" style="left:2452.70px;top:696.08px;font-size:20.7px;line-height:20.7px;color:#000;transform:scaleX(1.0972);">2.7455</div>
<div class="t" style="left:2452.70px;top:258.08px;font-size:20.7px;line-height:20.7px;color:#fff;transform:scaleX(1.0972);">3.3800</div>
<div class="t" style="left:614.70px;top:19.09px;font-size:20.8px;line-height:20.8px;color:#17181c;">D</div>
<div class="abs" style="left:2517px;top:7.4px;width:80px;height:42.4px;background:#2a2b30;border-radius:21.2px"></div>
<div class="t" style="left:2536.20px;top:18.36px;font-size:20.6px;line-height:20.6px;color:#fff;">Publish</div>
<div class="abs" style="left:386.1px;top:74px;width:26.6px;height:26.6px;border-radius:50%;background:#dfeeea"></div><div class="abs" style="left:393.5px;top:81.4px;width:11.8px;height:11.8px;border-radius:50%;background:#47977f"></div>
<svg class="ic" style="left:0;top:0" width="2560" height="1218" viewBox="0 0 2560 1218">
<line x1="213.8" y1="12.3" x2="213.8" y2="44.8" stroke="#ebebeb" stroke-width="1.8" stroke-linecap="butt"/>
<line x1="680.4" y1="12.3" x2="680.4" y2="44.8" stroke="#ebebeb" stroke-width="1.8" stroke-linecap="butt"/>
<line x1="751" y1="12.3" x2="751" y2="44.8" stroke="#ebebeb" stroke-width="1.8" stroke-linecap="butt"/>
<line x1="988.6" y1="12.3" x2="988.6" y2="44.8" stroke="#ebebeb" stroke-width="1.8" stroke-linecap="butt"/>
<line x1="1255.3" y1="12.3" x2="1255.3" y2="44.8" stroke="#ebebeb" stroke-width="1.8" stroke-linecap="butt"/>
<line x1="2274.8" y1="12.3" x2="2274.8" y2="44.8" stroke="#ebebeb" stroke-width="1.8" stroke-linecap="butt"/>
<circle cx="26" cy="26.7" r="7.95" stroke-width="2.1"/><path d="M31.8 32.7 L37.7 38.3" stroke-width="2.1"/>
<circle cx="177.5" cy="29.3" r="13.6" stroke-width="1.7"/><path d="M171 29.4H184M177.5 22.8V36.1" stroke-width="1.7"/>
<path d="M650.6 26.7 L655.6 30.9 L660.6 26.7" stroke-width="1.6"/>
<rect x="707.3" y="18.85" width="5.95" height="19.2" rx="0.8" stroke-width="1.7"/><path d="M710.3 14.2V18.8M710.3 38.1V43" stroke-width="1.7"/>
<rect x="719.4" y="23.5" width="5.95" height="10.2" rx="0.8" stroke-width="1.7"/><path d="M722.4 18.9V23.5M722.4 33.7V38.1" stroke-width="1.7"/>
<path d="M774.6 25 L782.3 17.6 L788.2 23 L799.6 15" stroke-width="1.7"/>
<path d="M774.9 41.2V37A1.2 1.2 0 0 1 776.1 35.8H780.8V41.2M780.8 35.8V32A1.2 1.2 0 0 1 782 30.8H786.2A1.2 1.2 0 0 1 787.4 32V41.2M787.4 34.4H793.2M793.2 41.2V27.4A1.2 1.2 0 0 1 794.4 26.2H798.4A1.2 1.2 0 0 1 799.6 27.4V41.2H774.9" stroke-width="1.7"/>
<rect x="941.5" y="17.2" width="8.9" height="8.8" rx="2.8" stroke-width="1.8"/>
<rect x="955.1" y="17.2" width="8.9" height="8.8" rx="2.8" stroke-width="1.8"/>
<rect x="941.5" y="31" width="8.9" height="8.8" rx="2.8" stroke-width="1.8"/>
<rect x="955.1" y="31" width="8.9" height="8.8" rx="2.8" stroke-width="1.8"/>
<path d="M1034.8 29.4A11.5 11.5 0 1 0 1023.6 40.6" stroke-width="1.7"/>
<path d="M1023.3 22V29.3H1018.8" stroke-width="1.7"/>
<path d="M1009.8 20.8L1014.6 15M1032.6 15.2L1037.7 20.8" stroke-width="1.7"/>
<path d="M1026.8 38.2H1038.6M1032.7 32.4V44.2" stroke-width="1.7"/>
<path d="M1140.5 21.7V37.2L1131.8 29.45Z" stroke-width="1.7" stroke-linejoin="miter"/><path d="M1152.6 21.5V37.4L1143.9 29.45Z" stroke-width="1.7" stroke-linejoin="miter"/>
<path d="M1286 21.2L1281 26.3L1286 31.4M1281.4 26.3H1291.5C1297 26.3 1299.4 30.5 1299.4 36.2" stroke-width="1.6"/>
<path d="M1351.6 21.2L1356.6 26.3L1351.6 31.2M1356.2 26.3H1346C1340.4 26.3 1338 30.5 1338 36.2" stroke="#9b9b9b" stroke-width="1.5"/>
<rect x="2079.4" y="16.25" width="27" height="24.4" rx="4.2" stroke-width="1.9"/>
<path d="M2245 25.8L2250.6 30.9L2256.3 25.8" stroke-width="1.6"/>
<path d="M2305 17.5A10.7 10.7 0 1 0 2318.3 27.3" stroke-width="1.6"/><path d="M2315.5 35.1L2322.6 42.4" stroke-width="1.6"/>
<path d="M2313 12.9L2306.5 22.5L2310.8 23L2311.4 30.6L2318.4 21.2L2314.2 20.3L2314.2 13Q2313.6 12.2 2313 12.9Z" stroke-width="1.6"/>
<path d="M2352.4 28.4L2359.2 15.6H2375.4L2382.6 28.4L2375.4 41.2H2359.2Z" stroke-width="1.6"/><circle cx="2367.4" cy="28.4" r="5.1" stroke-width="1.6"/>
<path d="M2413.2 24V21.6A4.4 4.4 0 0 1 2417.6 17.2H2420M2429.2 17.2H2431.6A4.4 4.4 0 0 1 2436 21.6V24M2436 33V35.3A4.4 4.4 0 0 1 2431.6 39.7H2429.2M2420 39.7H2417.6A4.4 4.4 0 0 1 2413.2 35.3V33" stroke-width="1.9"/>
<path d="M2469.9 19.1H2474.6Q2475.4 19.1 2475.9 18.3L2476.8 16.8Q2477.3 15.9 2478.3 15.9H2484.9Q2485.9 15.9 2486.4 16.8L2487.3 18.3Q2487.8 19.1 2488.6 19.1H2493.4A3 3 0 0 1 2496.4 22.1V36.7A3 3 0 0 1 2493.4 39.7H2469.9A3 3 0 0 1 2466.9 36.7V22.1A3 3 0 0 1 2469.9 19.1Z" stroke-width="1.8"/><circle cx="2481.5" cy="29.1" r="5.8" stroke-width="1.8"/>
<path d="M478.8 1179.6V1173.4A3.2 3.2 0 0 1 482 1170.2H501A3.2 3.2 0 0 1 504.2 1173.4V1189.6A3.2 3.2 0 0 1 501 1192.8H492.3M478.8 1176.3H504.2M486.4 1167V1172.2M496.9 1167V1172.2M476.8 1188.3H487.8M483 1183.4L488 1188.3L483 1193.3" stroke="#1e2025" stroke-width="1.7"/>
<path d="M2488.9 1128.9L2493.7 1120.1H2504.1L2508.9 1128.9L2504.1 1137.7H2493.7Z" stroke-width="1.9"/><circle cx="2498.9" cy="1128.9" r="3" stroke-width="1.8"/>
<path d="M2538.4 87.3L2541.7 90.2L2545 87.3" stroke-width="1.9"/>
<path d="M33 227.3L37.9 222L42.8 227.3" stroke-width="2"/>
</svg>
<svg class="abs" style="left:0;top:0;overflow:visible" width="2560" height="1218" viewBox="0 0 2560 1218">
<path d="M23.7 1060.6H41.6V1082.7H32.2V1069.5H23.7Z M59 1060.6H68.5L59.6 1082.7H49.6Z" fill="none" stroke="#fff" stroke-width="4" stroke-linejoin="round"/><circle cx="49.6" cy="1064.6" r="4.2" fill="none" stroke="#fff" stroke-width="4"/>
<path d="M23.7 1060.6H41.6V1082.7H32.2V1069.5H23.7Z M59 1060.6H68.5L59.6 1082.7H49.6Z" fill="#131417"/><circle cx="49.6" cy="1064.6" r="4.2" fill="#131417"/>
<text x="79.2" y="1082.7" font-family="Liberation Sans, sans-serif" font-weight="700" font-size="30" letter-spacing="0.583" fill="#131417" stroke="#fff" stroke-width="4.5" stroke-linejoin="round" paint-order="stroke fill">TradingView</text>
<circle cx="36.2" cy="82" r="8.9" fill="#47977f"/>
<ellipse cx="37" cy="82.4" rx="5.4" ry="4.4" fill="#fff"/>
<path d="M33.8 79.4H38.8L37.6 81.2H35.2ZM35.4 82L38.4 81.6L37.6 83.4H36Z" fill="#47977f" opacity=".7"/>
<circle cx="27.2" cy="91.5" r="10.9" fill="#fff"/>
<circle cx="27.2" cy="91.5" r="8.85" fill="#16171b"/>
<path d="M22.7 86.4Q25.6 90.7 27.1 90.7Q28.6 90.7 31.4 86.2M22.9 96.2Q25.6 92.1 27.1 92.1Q28.6 92.1 31.6 96.2" stroke="#d0d0d0" stroke-width="0.95" fill="none" stroke-linecap="round"/>
</svg>
</body></html>
